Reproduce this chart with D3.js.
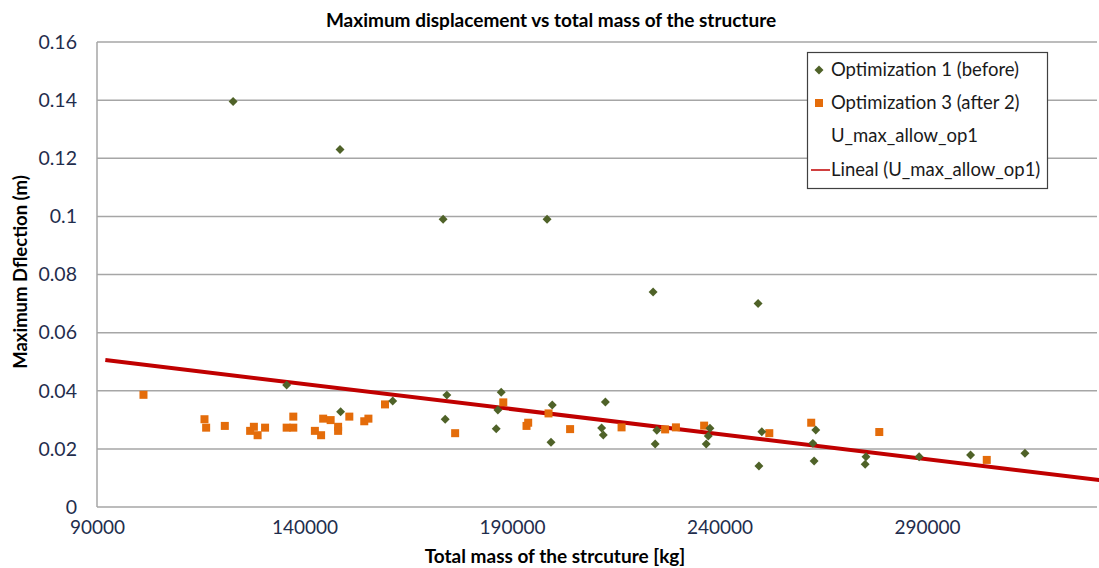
<!DOCTYPE html>
<html><head><meta charset="utf-8">
<script src="https://cdn.jsdelivr.net/npm/d3@7"></script>
<style>body{margin:0;background:#fff;} svg{display:block;}</style>
</head><body>
<svg id="chart" width="1099" height="568"></svg>
<script>
// Optimization 1 (before): [mass kg, max deflection m]
const opt1Mass = [122800,148560,173400,198450,224000,249300,135700,148700,161260,174300,173900,187400,186600,186200,199700,199400,212500,211600,212000,224900,224500,237700,237300,236800,250200,249500,263200,262500,262800,275300,275100,288100,300500,313600];
const opt1Defl = [0.1395,0.123,0.099,0.099,0.074,0.070,0.042,0.0328,0.0365,0.0385,0.0302,0.0395,0.0334,0.0269,0.0351,0.0223,0.0361,0.0272,0.0248,0.0264,0.0217,0.0271,0.0244,0.0217,0.0259,0.0141,0.0265,0.0219,0.0158,0.0173,0.0147,0.0173,0.0179,0.0185];
// Optimization 3 (after 2)
const opt3Mass = [101200,115900,116300,120800,126900,127800,128700,130500,135700,137300,137300,142500,144000,144500,146300,148100,148100,150800,154400,155400,159400,176300,187900,193500,193900,198800,204000,216400,226900,229500,236300,252000,262100,278500,304400];
const opt3Defl = [0.0386,0.0302,0.0273,0.0279,0.0262,0.0276,0.0247,0.0273,0.0273,0.0273,0.0311,0.0262,0.0247,0.0304,0.0299,0.0276,0.0262,0.0311,0.0295,0.0304,0.0353,0.0254,0.036,0.0279,0.029,0.0322,0.0268,0.0274,0.0267,0.0274,0.028,0.0254,0.029,0.0258,0.0162];
// Linear trend of U_max_allow_op1 (endpoints)
const trendMass = [92000, 340000];
const trendDefl = [0.0506, 0.0078];
const xTicks = [90000,140000,190000,240000,290000];
const yTicks = [0,0.02,0.04,0.06,0.08,0.1,0.12,0.14,0.16];
const legendLabels = ["Optimization 1 (before)","Optimization 3 (after 2)","U_max_allow_op1","Lineal (U_max_allow_op1)"];

const svg = d3.select("#chart");
const FONT = "Lato, 'Open Sans', sans-serif";
const mLeft = 97, mTop = 42, mBottom = 507;
const x = d3.scaleLinear().domain([90000, 340000]).range([mLeft, mLeft + 5*207.5]);
const y = d3.scaleLinear().domain([0, 0.16]).range([mBottom, mTop]);
const plotRight = 1097;

svg.append("defs").append("clipPath").attr("id","clip")
  .append("rect").attr("x", mLeft).attr("y", 0).attr("width", plotRight - mLeft + 2).attr("height", 568);

// gridlines
svg.append("g").selectAll("line").data(yTicks.filter(d=>d>0)).join("line")
  .attr("x1", mLeft).attr("x2", plotRight)
  .attr("y1", d=>y(d)).attr("y2", d=>y(d))
  .attr("stroke", "#a6a6a6").attr("stroke-width", 1.5);

// axes lines
svg.append("line").attr("x1", mLeft).attr("x2", mLeft).attr("y1", mTop).attr("y2", mBottom)
  .attr("stroke","#a6a6a6").attr("stroke-width",1.5);
svg.append("line").attr("x1", mLeft).attr("x2", plotRight).attr("y1", mBottom).attr("y2", mBottom)
  .attr("stroke","#a6a6a6").attr("stroke-width",1.5);

// y axis
const yAxis = d3.axisLeft(y).tickValues(yTicks).tickSize(0).tickPadding(20).tickFormat(d=>String(+d.toFixed(2)));
const gy = svg.append("g").attr("transform", `translate(${mLeft},0)`).call(yAxis);
gy.select(".domain").remove();
gy.selectAll("text").attr("font-family", FONT).attr("font-size", 19.5).attr("fill", "#1f2d4d");

// x axis
const xAxis = d3.axisBottom(x).tickValues(xTicks).tickSize(0).tickPadding(14).tickFormat(d=>String(d));
const gx = svg.append("g").attr("transform", `translate(0,${mBottom})`).call(xAxis);
gx.select(".domain").remove();
gx.selectAll("text").attr("font-family", FONT).attr("font-size", 19).attr("fill", "#1f2d4d");

// trend line
const plot = svg.append("g").attr("clip-path","url(#clip)");
const trend = trendMass.map((m,i)=>[m, trendDefl[i]]);
plot.append("path").datum(trend)
  .attr("d", d3.line().x(d=>x(d[0])).y(d=>y(d[1])))
  .attr("stroke","#c00000").attr("stroke-width",4).attr("fill","none");

// markers
const diamond = d3.symbol().type(d3.symbolSquare).size(40);
const opt1 = opt1Mass.map((m,i)=>[m, opt1Defl[i]]);
const opt3 = opt3Mass.map((m,i)=>[m, opt3Defl[i]]);
plot.append("g").selectAll("rect").data(opt3).join("rect")
  .attr("x", d=>x(d[0])-4).attr("y", d=>y(d[1])-4).attr("width",8).attr("height",8)
  .attr("fill","#e46c0a");
plot.append("g").selectAll("path").data(opt1).join("path")
  .attr("d", diamond)
  .attr("transform", d=>`translate(${x(d[0])},${y(d[1])}) rotate(45)`)
  .attr("fill","#4f6228");

// titles
svg.append("text").attr("x", 551).attr("y", 27).attr("text-anchor","middle")
  .attr("font-family", FONT).attr("font-weight","bold").attr("font-size",19).attr("fill","#000")
  .text("Maximum displacement vs total mass of the structure");
svg.append("text").attr("x", 555).attr("y", 563).attr("text-anchor","middle")
  .attr("font-family", FONT).attr("font-weight","bold").attr("font-size",19).attr("fill","#000")
  .text("Total mass of the strcuture [kg]");
svg.append("text").attr("transform","translate(27,272) rotate(-90)").attr("text-anchor","middle")
  .attr("font-family", FONT).attr("font-weight","bold").attr("font-size",18.5).attr("fill","#000")
  .text("Maximum Dflection (m)");

// legend
const lg = svg.append("g");
lg.append("rect").attr("x",807.5).attr("y",52.5).attr("width",240).attr("height",136)
  .attr("fill","#fff").attr("stroke","#404040").attr("stroke-width",1.2);
const ly = [70, 103, 136, 170];
lg.selectAll("text").data(legendLabels).join("text")
  .attr("x", 831).attr("y", (d,i)=>ly[i]).attr("dy","0.35em")
  .attr("font-family", FONT).attr("font-size",18.5).attr("fill","#1a1a1a").text(d=>d);
lg.append("path").attr("d", diamond).attr("transform",`translate(819,${ly[0]}) rotate(45)`).attr("fill","#4f6228");
lg.append("rect").attr("x",815).attr("y",ly[1]-4).attr("width",8).attr("height",8).attr("fill","#e46c0a");
lg.append("line").attr("x1",811).attr("x2",830).attr("y1",ly[3]).attr("y2",ly[3]).attr("stroke","#c00000").attr("stroke-width",1.5);
</script>
</body></html>
